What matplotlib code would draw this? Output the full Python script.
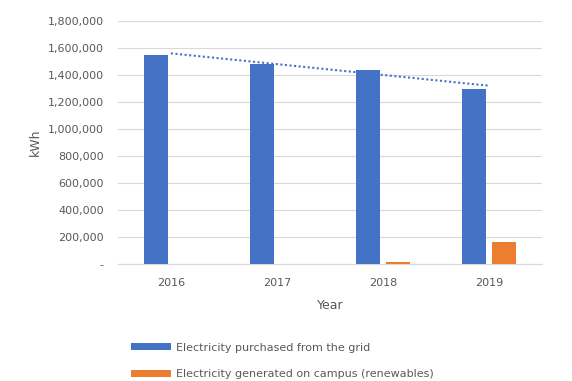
import numpy as np
import matplotlib.pyplot as plt

years = ['2016', '2017', '2018', '2019']
grid_kwh = [1548000, 1480000, 1437000, 1296000]
campus_kwh = [0, 0, 15000, 163000]
y_ticks = [0, 200000, 400000, 600000, 800000, 1000000, 1200000,
           1400000, 1600000, 1800000]


def main():
    plt.rcParams['font.family'] = ['DejaVu Sans']
    grey = '#595959'

    fig = plt.figure(figsize=(5.72, 3.81), dpi=100)
    ax = fig.add_axes([0.206, 0.307, 0.742, 0.638])

    x = np.arange(len(years))
    w = 0.225
    ax.bar(x - 0.14, grid_kwh, w, color='#4472C4', zorder=3,
           label='Electricity purchased from the grid')
    ax.bar(x + 0.14, campus_kwh, w, color='#ED7D31', zorder=3,
           label='Electricity generated on campus (renewables)')

    # linear trendline of the grid series
    k, b = np.polyfit(x, grid_kwh, 1)
    ax.plot(x, k * x + b, linestyle=(0, (1, 1.2)), color='#4472C4',
            linewidth=1.5, zorder=4)

    ax.set_xlim(-0.5, 3.5)
    ax.set_ylim(0, 1800000)
    ax.set_xticks(x)
    ax.set_xticklabels(years)
    ax.set_yticks(y_ticks)
    ax.set_yticklabels(['-'] + [f'{v:,}' for v in y_ticks[1:]])
    ax.yaxis.grid(True, color='#d9d9d9', linewidth=0.8, zorder=0)
    for s in ['top', 'right', 'left']:
        ax.spines[s].set_visible(False)
    ax.spines['bottom'].set_color('#d9d9d9')
    ax.tick_params(length=0, colors=grey, labelsize=8)
    ax.tick_params(axis='x', pad=10)
    ax.tick_params(axis='y', pad=10)

    ax.set_xlabel('Year', color=grey, fontsize=9, labelpad=8)
    ax.set_ylabel('kWh', color=grey, fontsize=9, labelpad=4)

    leg = fig.legend(loc='upper left', bbox_to_anchor=(0.229, 0.101),
                     frameon=False, fontsize=8, handlelength=3.6,
                     handleheight=0.6, handletextpad=0.45, labelspacing=1.5,
                     borderaxespad=0, borderpad=0)
    for t in leg.get_texts():
        t.set_color(grey)

    fig.savefig('out.png', dpi=100)


if __name__ == '__main__':
    main()
